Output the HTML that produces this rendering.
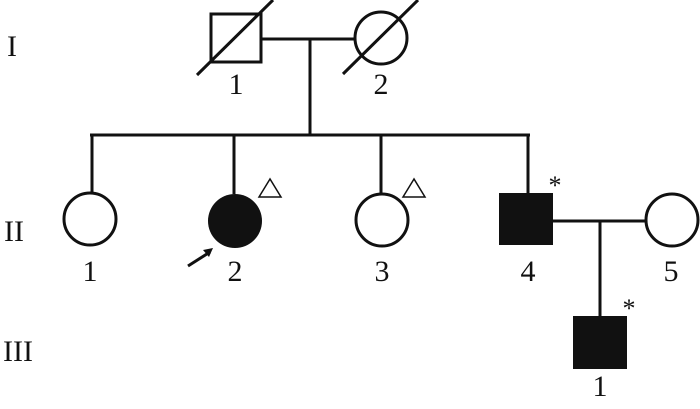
<!DOCTYPE html>
<html><head><style>
body{margin:0;background:#fff;}
svg text{font-family:"Liberation Serif",serif;fill:#111;}
</style></head><body>
<svg width="700" height="404" viewBox="0 0 700 404" xmlns="http://www.w3.org/2000/svg">
<g stroke="#111" stroke-width="3" fill="none">
<rect x="211" y="14" width="50" height="48"/>
<line x1="197" y1="75" x2="273" y2="0"/>
<circle cx="381" cy="38" r="26"/>
<line x1="343" y1="74" x2="418" y2="0"/>
<line x1="261" y1="39" x2="355" y2="39"/>
<line x1="310" y1="39" x2="310" y2="135"/>
<line x1="90" y1="135" x2="530" y2="135"/>
<line x1="92" y1="135" x2="92" y2="192"/>
<line x1="234" y1="135" x2="234" y2="194"/>
<line x1="381" y1="135" x2="381" y2="194"/>
<line x1="528" y1="135" x2="528" y2="194"/>
<circle cx="90" cy="219" r="26"/>
<circle cx="382" cy="220" r="26"/>
<circle cx="672" cy="220" r="26"/>
<line x1="553" y1="221" x2="646" y2="221"/>
<line x1="600" y1="221" x2="600" y2="317"/>
<line x1="188" y1="266" x2="210" y2="252"/>
</g>
<circle cx="235" cy="221" r="27" fill="#111"/>
<polygon points="213,248 203,250 209,257" fill="#111"/>
<rect x="499" y="193" width="54" height="52" fill="#111"/>
<rect x="573" y="316" width="54" height="53" fill="#111"/>
<g fill="none" stroke="#111" stroke-width="1.5">
<polygon points="270,179 259,197 281,197"/>
<polygon points="414,179 403,197 425,197"/>
</g>
<g font-size="30" text-anchor="middle">
<text x="12" y="56">I</text>
<text x="14" y="241">II</text>
<text x="18" y="361">III</text>
<text x="236" y="94">1</text>
<text x="381" y="94">2</text>
<text x="90" y="281">1</text>
<text x="235" y="281">2</text>
<text x="382" y="281">3</text>
<text x="528" y="281">4</text>
<text x="671" y="281">5</text>
<text x="600" y="396">1</text>
</g>
<g font-size="26" text-anchor="middle">
<text x="555" y="194">*</text>
<text x="629" y="317">*</text>
</g>
</svg>
</body></html>
